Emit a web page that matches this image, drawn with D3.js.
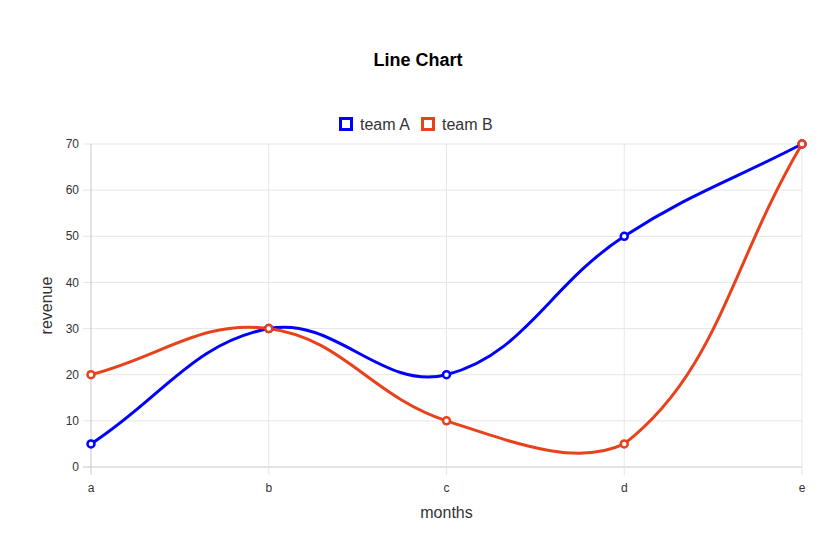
<!DOCTYPE html>
<html>
<head>
<meta charset="utf-8">
<script src="https://cdn.jsdelivr.net/npm/d3@7"></script>
<style>
  body { margin: 0; background: #fff; font-family: Arial, "Liberation Sans", sans-serif; }
</style>
</head>
<body>
<div id="chart"></div>
<script>
// datos del gráfico
const months = ["a", "b", "c", "d", "e"];
const teamA = [5, 30, 20, 50, 70];
const teamB = [20, 30, 10, 5, 70];
const yTicks = [0, 10, 20, 30, 40, 50, 60, 70];
const seriesNames = ["team A", "team B"];
const seriesColors = ["#0000ff", "#e8421c"];

const width = 840, height = 560;
const margin = { top: 144, right: 38, bottom: 93, left: 91 };
const innerWidth = width - margin.left - margin.right;
const innerHeight = height - margin.top - margin.bottom;

const svg = d3.select("#chart").append("svg")
    .attr("width", width)
    .attr("height", height);

const g = svg.append("g")
    .attr("transform", `translate(${margin.left},${margin.top})`);

const x = d3.scalePoint().domain(months).range([0, innerWidth]);
const y = d3.scaleLinear().domain([0, 70]).range([innerHeight, 0]);

// rejilla
g.selectAll(".hgrid").data(yTicks).enter().append("line")
    .attr("x1", -8).attr("x2", innerWidth)
    .attr("y1", d => y(d)).attr("y2", d => y(d))
    .attr("stroke", d => d === 0 ? "#c8c8c8" : "#e6e6e6");
g.selectAll(".vgrid").data(months).enter().append("line")
    .attr("x1", d => x(d)).attr("x2", d => x(d))
    .attr("y1", 0).attr("y2", innerHeight + 8)
    .attr("stroke", (d, i) => i === 0 ? "#c8c8c8" : "#e6e6e6");

// etiquetas de ejes
g.selectAll(".ylab").data(yTicks).enter().append("text")
    .attr("x", -12).attr("y", d => y(d)).attr("dy", "0.35em")
    .attr("text-anchor", "end").attr("font-size", 12).attr("fill", "#333")
    .text(d => d);
g.selectAll(".xlab").data(months).enter().append("text")
    .attr("x", d => x(d)).attr("y", innerHeight + 25)
    .attr("text-anchor", "middle").attr("font-size", 12).attr("fill", "#333")
    .text(d => d);

svg.append("text")
    .attr("x", margin.left + innerWidth / 2).attr("y", 518)
    .attr("text-anchor", "middle").attr("font-size", 16).attr("fill", "#333")
    .text("months");
svg.append("text")
    .attr("transform", `translate(52,${margin.top + innerHeight / 2}) rotate(-90)`)
    .attr("text-anchor", "middle").attr("font-size", 16).attr("fill", "#333")
    .text("revenue");

svg.append("text")
    .attr("x", 418).attr("y", 66)
    .attr("text-anchor", "middle").attr("font-size", 18).attr("font-weight", "bold")
    .text("Line Chart");

// curva spline como la de Chart.js (tension 0.4, distancias en píxeles)
function splinePath(pts, t) {
    const cps = pts.map((p, i) => {
        const p0 = pts[i - 1] || p, p2 = pts[i + 1] || p;
        const d01 = Math.hypot(p[0] - p0[0], p[1] - p0[1]);
        const d12 = Math.hypot(p2[0] - p[0], p2[1] - p[1]);
        let s01 = d01 / (d01 + d12), s12 = d12 / (d01 + d12);
        if (isNaN(s01)) s01 = 0;
        if (isNaN(s12)) s12 = 0;
        const fa = t * s01, fb = t * s12;
        const cap = v => Math.max(0, Math.min(innerHeight, v));
        return {
            prev: [p[0] - fa * (p2[0] - p0[0]), cap(p[1] - fa * (p2[1] - p0[1]))],
            next: [p[0] + fb * (p2[0] - p0[0]), cap(p[1] + fb * (p2[1] - p0[1]))]
        };
    });
    const path = d3.path();
    path.moveTo(pts[0][0], pts[0][1]);
    for (let i = 1; i < pts.length; i++) {
        path.bezierCurveTo(cps[i - 1].next[0], cps[i - 1].next[1],
            cps[i].prev[0], cps[i].prev[1], pts[i][0], pts[i][1]);
    }
    return path.toString();
}

[teamA, teamB].forEach((data, k) => {
    const pts = data.map((d, i) => [x(months[i]), y(d)]);
    g.append("path")
        .attr("fill", "none")
        .attr("stroke", seriesColors[k])
        .attr("stroke-width", 3)
        .attr("d", splinePath(pts, 0.4));
});
[teamA, teamB].forEach((data, k) => {
    g.selectAll(".dot" + k).data(data).enter().append("circle")
        .attr("cx", (d, i) => x(months[i]))
        .attr("cy", d => y(d))
        .attr("r", 3.5)
        .attr("fill", "#fff")
        .attr("stroke", seriesColors[k])
        .attr("stroke-width", 2.5);
});

// leyenda
const legendX = [339, 421];
seriesNames.forEach((name, k) => {
    svg.append("rect")
        .attr("x", legendX[k] + 1.5).attr("y", 118.5)
        .attr("width", 11).attr("height", 11)
        .attr("fill", "#fff").attr("stroke", seriesColors[k]).attr("stroke-width", 3);
    svg.append("text")
        .attr("x", legendX[k] + 21).attr("y", 124).attr("dy", "0.35em")
        .attr("font-size", 16).attr("fill", "#333")
        .text(name);
});
</script>
</body>
</html>
